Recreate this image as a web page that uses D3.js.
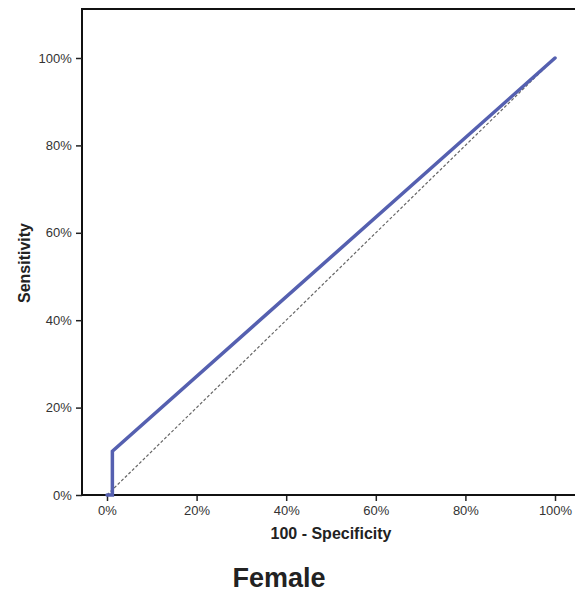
<!doctype html>
<html>
<head>
  <script src="https://d3js.org/d3.v7.min.js"></script>
  <style>
    body { margin: 0; padding: 0; background: #fff; }
    text { font-family: "Liberation Sans", Arial, sans-serif; }
  </style>
</head>
<body>
  <div id="container"></div>
  <script>
  // ROC curve points (100 - specificity, sensitivity), in percent
  var rocX = [0, 1.2, 1.2, 100]
  var rocY = [0, 0, 10, 100]
  // reference diagonal
  var refX = [0, 100]
  var refY = [0, 100]
  var tickValues = [0, 20, 40, 60, 80, 100]

  var width = 575, height = 592
  var svg = d3.select("#container").append("svg")
      .attr("width", width)
      .attr("height", height)

  var x = d3.scaleLinear().domain([0, 100]).range([107, 555])
  var y = d3.scaleLinear().domain([0, 100]).range([495, 58])

  var frameLeft = 82, frameTop = 9, frameRight = 575, frameBottom = 495

  // frame
  svg.append("path")
    .attr("d", `M${frameLeft},${frameBottom} L${frameLeft},${frameTop} L${frameRight},${frameTop}`)
    .attr("fill", "none").attr("stroke", "#111").attr("stroke-width", 2)

  var xAxis = svg.append("g")
    .attr("transform", "translate(0," + frameBottom + ")")
    .call(d3.axisBottom(x).tickValues(tickValues).tickSize(6).tickSizeOuter(0)
      .tickFormat(function(d) { return d + "%" }))
  xAxis.select(".domain").remove()
  xAxis.append("line").attr("x1", frameLeft).attr("x2", frameRight)
    .attr("stroke", "#111").attr("stroke-width", 2)
  xAxis.selectAll(".tick line").attr("stroke", "#222").attr("stroke-width", 1.5)
  xAxis.selectAll(".tick text").attr("font-size", 13).attr("fill", "#333").attr("dy", "0.85em")

  var yAxis = svg.append("g")
    .attr("transform", "translate(" + frameLeft + ",0)")
    .call(d3.axisLeft(y).tickValues(tickValues).tickSize(6).tickSizeOuter(0)
      .tickFormat(function(d) { return d + "%" }))
  yAxis.select(".domain").remove()
  yAxis.selectAll(".tick line").attr("stroke", "#222").attr("stroke-width", 1.5)
  yAxis.selectAll(".tick text").attr("font-size", 13).attr("fill", "#333").attr("dx", "-0.1em")

  var line = d3.line().x(function(d) { return x(d[0]) }).y(function(d) { return y(d[1]) })

  svg.append("path")
    .datum(d3.zip(refX, refY))
    .attr("d", line)
    .attr("fill", "none").attr("stroke", "#666").attr("stroke-width", 1.2)
    .attr("stroke-dasharray", "3,2")

  svg.append("path")
    .datum(d3.zip(rocX, rocY))
    .attr("d", line)
    .attr("fill", "none").attr("stroke", "#5560b0").attr("stroke-width", 3.5)
    .attr("stroke-linejoin", "miter").attr("stroke-linecap", "round")

  svg.append("text")
    .attr("transform", "translate(30,263) rotate(-90)")
    .attr("text-anchor", "middle")
    .attr("font-size", 16).attr("font-weight", "bold").attr("fill", "#222")
    .text("Sensitivity")

  svg.append("text")
    .attr("x", 331).attr("y", 539)
    .attr("text-anchor", "middle")
    .attr("font-size", 16).attr("font-weight", "bold").attr("fill", "#222")
    .text("100 - Specificity")

  svg.append("text")
    .attr("x", 279).attr("y", 587)
    .attr("text-anchor", "middle")
    .attr("font-size", 27).attr("font-weight", "bold").attr("fill", "#222")
    .text("Female")
  </script>
</body>
</html>
